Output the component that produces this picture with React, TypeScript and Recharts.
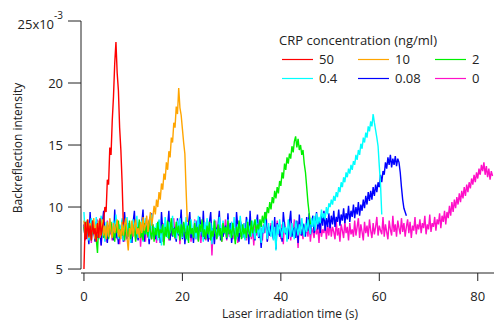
import React from "react";
import { LineChart, Line, XAxis, YAxis, ReferenceLine } from "recharts";

// Backreflection vs laser time, one trace per CRP concentration.
// values are in units of 1e-3, sampled every DT seconds from t = 0
const DT = 0.25;

const red50 = [
  5.0, 8.8, 7.4, 9.0, 7.6, 8.5, 7.3, 8.9, 7.8, 8.3, 7.2, 8.7, 7.5, 9.1, 7.7, 8.4,
  8.8, 10.0, 9.6, 12.2, 11.8, 14.8, 14.2, 17.0, 18.9, 21.6, 23.3, 20.8, 19.4, 16.4, 14.6, 12.0, 8.6,
];

const orange10 = [
  8.9, 7.6, 8.4, 9.0, 7.5, 8.7, 7.9, 8.2, 9.1, 7.4, 8.6, 7.8, 8.9, 7.5, 8.3, 9.0, 7.7, 8.5, 7.4, 8.8,
  7.6, 9.1, 8.0, 7.5, 8.7, 7.9, 8.4, 9.0, 7.6, 8.2, 7.4, 8.8, 7.7, 8.6, 9.1, 7.5, 6.5, 8.3, 7.8, 8.9,
  7.6, 8.5, 9.0, 7.8, 8.3, 7.5, 8.8, 7.9, 9.2, 8.1, 8.6, 9.3, 8.0, 8.8, 9.6, 8.5, 9.2, 10.1, 9.4, 10.6,
  10.0, 11.2, 10.6, 11.9, 11.4, 12.7, 12.2, 13.6, 13.0, 14.5, 14.0, 15.6, 15.2, 16.8, 16.4, 18.1, 17.5, 19.6, 18.0, 17.4,
  16.3, 15.2, 14.3, 11.4, 8.8,
];

const green2 = [
  8.4, 7.5, 8.8, 8.1, 7.7, 8.5, 7.3, 8.9, 7.9, 8.2, 7.4, 6.3, 8.7, 7.6, 8.3, 8.9, 7.5, 8.1, 7.8, 8.6,
  7.4, 8.3, 8.8, 7.6, 8.0, 7.2, 8.6, 7.9, 8.9, 7.5, 8.2, 7.7, 8.4, 7.3, 8.7, 8.0, 7.6, 8.9, 7.4, 8.3,
  7.8, 8.6, 7.2, 8.4, 7.9, 9.0, 7.5, 8.1, 7.3, 8.7, 7.8, 8.5, 7.6, 8.9, 8.0, 7.4, 8.6, 7.2, 8.3, 7.7,
  8.8, 7.5, 8.2, 7.9, 8.6, 6.9, 8.4, 7.6, 8.9, 7.4, 8.1, 9.1, 7.7, 8.3, 7.5, 8.8, 7.9, 8.5, 7.3, 8.6,
  7.6, 8.8, 8.0, 7.4, 8.5, 7.1, 8.9, 7.8, 8.3, 7.5, 8.7, 7.9, 8.4, 7.2, 8.6, 8.0, 9.0, 7.6, 8.2, 7.4,
  8.5, 7.8, 8.8, 7.3, 8.1, 7.6, 8.9, 8.0, 7.4, 8.6, 7.7, 8.3, 7.2, 8.7, 7.9, 8.4, 7.5, 8.9, 7.8, 8.2,
  7.5, 8.7, 7.9, 7.0, 8.4, 7.6, 8.9, 8.1, 7.4, 8.6, 7.8, 8.3, 7.5, 8.8, 8.0, 7.6, 8.9, 7.9, 8.5, 9.0,
  7.9, 8.6, 8.2, 9.0, 8.4, 9.3, 8.7, 9.6, 9.0, 10.0, 9.5, 10.4, 9.8, 10.8, 10.3, 11.3, 10.7, 11.6, 11.1, 12.1,
  11.7, 12.8, 12.3, 13.5, 13.0, 14.0, 13.5, 14.3, 13.9, 14.9, 14.4, 15.3, 15.7, 14.8, 15.5, 14.6, 15.0, 14.2, 14.6, 13.5,
  12.8, 11.6, 10.4, 9.5, 8.6,
];

const cyan04 = [
  9.6, 7.6, 8.9, 8.2, 7.3, 8.6, 9.1, 7.8, 8.4, 7.5, 9.2, 8.0, 7.4, 8.7, 9.3, 7.7, 8.3, 7.2, 8.8, 8.1,
  7.6, 9.0, 8.3, 7.5, 8.9, 7.9, 9.4, 8.2, 7.4, 8.6, 7.8, 9.1, 7.3, 8.5, 8.0, 9.2, 7.6, 8.7, 7.1, 8.4,
  9.0, 7.7, 8.3, 9.3, 7.5, 8.6, 7.9, 8.9, 7.2, 8.5, 9.1, 7.8, 8.2, 7.4, 8.8, 9.4, 7.6, 8.4, 7.9, 8.7,
  7.3, 9.0, 8.1, 6.9, 8.6, 7.7, 9.2, 8.0, 7.5, 8.8, 7.9, 8.4, 9.3, 7.6, 8.2, 7.4, 8.9, 7.8, 9.1, 8.3,
  7.5, 8.7, 8.0, 9.2, 7.3, 8.5, 7.8, 9.0, 8.2, 7.6, 8.9, 7.4, 8.4, 9.3, 7.7, 8.6, 8.0, 7.2, 8.8, 7.9,
  9.1, 8.3, 7.5, 8.7, 7.0, 8.4, 9.0, 7.8, 8.2, 7.6, 9.2, 8.5, 7.4, 8.9, 7.9, 8.3, 7.6, 9.0, 8.1, 7.5,
  8.8, 7.7, 9.2, 8.0, 7.4, 8.6, 7.9, 9.3, 8.2, 7.5, 8.7, 7.3, 8.4, 9.0, 7.8, 8.5, 7.6, 8.9, 8.1, 7.4,
  9.0, 8.2, 7.6, 8.8, 7.1, 8.5, 7.9, 9.1, 8.3, 7.4, 8.7, 8.0, 7.6, 8.9, 7.3, 8.4, 6.5, 8.6, 7.8, 9.0,
  8.1, 7.5, 8.8, 7.9, 8.4, 7.2, 9.0, 8.2, 7.6, 8.7, 8.0, 7.4, 8.9, 8.3, 7.7, 8.6, 7.8, 9.1, 8.2, 7.6,
  8.7, 8.0, 9.0, 8.3, 7.8, 9.1, 8.4, 9.3, 8.1, 9.5, 8.6, 9.2, 8.7, 9.8, 9.1, 9.5, 9.0, 10.0, 9.4, 10.3,
  10.0, 10.6, 10.2, 10.9, 10.5, 11.2, 10.8, 11.6, 11.2, 12.0, 11.6, 12.4, 12.0, 12.8, 12.4, 13.1, 12.7, 13.4, 13.0, 13.7,
  13.4, 14.2, 13.8, 14.6, 14.2, 15.1, 14.7, 15.6, 15.2, 16.0, 15.6, 16.5, 16.1, 16.9, 16.5, 17.5, 16.8, 16.2, 15.6, 14.9,
  13.3, 11.8, 9.4,
];

const blue008 = [
  8.6, 7.4, 8.2, 8.0, 7.0, 9.6, 7.7, 8.4, 8.1, 7.2, 8.8, 7.5, 8.3, 8.1, 6.9, 8.7, 9.7, 7.6, 8.3, 7.1,
  8.5, 7.8, 8.6, 8.0, 7.3, 9.8, 7.5, 8.2, 7.0, 8.4, 7.7, 8.9, 7.2, 9.6, 8.0, 7.4, 8.5, 8.2, 7.8, 7.1,
  8.8, 9.7, 7.5, 8.3, 7.3, 8.4, 7.6, 8.7, 9.8, 7.2, 8.4, 7.9, 8.3, 7.0, 8.6, 9.5, 7.7, 8.1, 7.4, 8.2,
  7.6, 8.9, 7.1, 9.6, 8.2, 7.5, 8.0, 7.8, 8.5, 9.7, 7.3, 8.8, 7.6, 8.4, 8.0, 7.2, 9.1, 7.7, 8.4, 9.8,
  7.4, 8.6, 7.0, 8.3, 7.9, 8.7, 9.6, 7.5, 8.2, 7.1, 8.5, 7.8, 8.9, 7.3, 9.2, 8.4, 7.6, 9.7, 7.4, 8.5,
  8.0, 7.2, 8.8, 9.6, 7.5, 8.3, 7.0, 8.4, 7.9, 8.6, 9.7, 7.3, 8.1, 7.6, 8.2, 8.5, 7.4, 9.5, 7.8, 8.7,
  7.1, 8.3, 8.0, 7.5, 9.6, 8.4, 7.2, 8.9, 8.5, 7.6, 8.2, 7.4, 9.2, 8.7, 7.0, 9.7, 7.8, 8.5, 8.1, 7.3,
  8.6, 9.4, 7.5, 8.1, 6.7, 8.3, 7.9, 8.8, 9.6, 7.2, 8.4, 7.7, 8.5, 8.0, 7.4, 9.2, 6.6, 8.7, 8.4, 7.6,
  8.3, 7.2, 9.6, 8.5, 7.8, 8.1, 7.4, 8.8, 9.7, 7.6, 8.2, 8.3, 7.5, 8.9, 7.1, 9.4, 8.0, 7.7, 8.6, 8.4,
  7.6, 9.2, 8.1, 9.5, 7.8, 8.7, 9.3, 7.9, 8.6, 9.6, 8.2, 9.0, 7.9, 9.4, 8.5, 9.7, 8.1, 9.1, 8.4, 9.5,
  8.3, 9.3, 8.6, 9.7, 8.4, 9.2, 8.8, 9.8, 8.5, 9.4, 8.9, 9.9, 8.7, 9.5, 9.0, 10.1, 8.8, 9.7, 9.2, 10.2,
  9.1, 10.0, 9.4, 10.4, 9.3, 10.2, 9.7, 10.6, 9.9, 10.9, 10.2, 11.2, 10.5, 11.3, 10.6, 11.6, 10.9, 11.8, 11.2, 12.0,
  11.6, 12.6, 12.0, 12.9, 12.6, 13.6, 13.1, 14.0, 13.4, 14.2, 13.2, 13.9, 13.4, 14.1, 13.3, 13.9, 13.6, 12.8, 11.6, 10.6,
  9.9, 9.6, 9.3,
];

const magenta0 = [
  8.6, 7.3, 8.1, 8.9, 7.6, 8.4, 7.1, 8.8, 7.9, 7.5, 8.2, 9.0, 7.4, 8.5, 6.9, 8.7, 7.7, 8.3, 7.2, 8.9,
  7.5, 8.6, 8.0, 7.3, 8.8, 7.7, 9.0, 7.4, 8.3, 7.0, 8.5, 7.8, 8.9, 7.2, 8.4, 7.6, 8.7, 8.1, 7.3, 8.6,
  7.8, 8.9, 7.4, 8.2, 7.6, 8.8, 6.8, 8.5, 7.9, 8.3, 7.2, 8.7, 7.5, 9.0, 8.0, 7.4, 8.6, 7.7, 8.2, 7.1,
  8.8, 7.5, 8.4, 7.9, 7.2, 8.7, 8.0, 7.6, 8.9, 7.3, 8.5, 7.7, 8.2, 9.1, 7.4, 8.6, 7.8, 8.3, 7.0, 8.7,
  7.6, 8.4, 7.3, 8.9, 8.0, 7.5, 8.6, 7.2, 8.3, 7.8, 9.0, 7.4, 8.5, 7.9, 8.7, 7.1, 8.2, 7.6, 8.8, 7.3,
  8.5, 8.0, 7.4, 8.7, 6.1, 8.3, 7.7, 8.9, 7.5, 8.2, 7.9, 8.6, 7.2, 8.4, 7.8, 9.0, 7.3, 8.5, 7.6, 8.1,
  8.8, 7.4, 8.3, 7.9, 8.6, 7.1, 8.9, 7.6, 8.2, 7.5, 8.7, 8.0, 7.3, 8.5, 7.8, 9.0, 7.4, 8.4, 6.9, 8.6,
  7.7, 8.3, 7.5, 8.8, 8.0, 7.3, 8.6, 7.9, 8.9, 7.2, 8.4, 7.7, 8.7, 8.1, 7.5, 8.5, 7.4, 8.9, 7.8, 8.2,
  7.4, 8.6, 7.0, 8.8, 7.9, 8.3, 7.6, 8.7, 7.3, 8.5, 8.0, 9.0, 7.5, 8.4, 6.7, 8.8, 7.7, 8.2, 7.4, 8.6,
  7.9, 8.5, 7.6, 8.9, 7.2, 8.3, 8.0, 7.5, 8.6, 7.8, 8.4, 7.1, 8.8, 7.6, 8.2, 7.9, 8.7, 7.4, 8.5, 7.7,
  8.8, 7.6, 8.4, 8.0, 7.4, 8.9, 7.7, 8.3, 7.2, 8.6, 8.1, 7.5, 8.8, 7.9, 8.4, 7.3, 8.7, 7.8, 8.2, 7.6,
  8.9, 7.7, 8.4, 9.1, 7.5, 8.6, 8.0, 7.3, 8.8, 7.9, 8.5, 7.6, 9.0, 8.1, 7.5, 8.7, 7.8, 8.4, 9.2, 7.7,
  8.5, 8.1, 7.8, 9.2, 7.6, 8.6, 8.0, 7.4, 8.9, 8.2, 7.7, 9.3, 8.0, 8.6, 7.6, 8.9, 8.3, 7.8, 9.1, 8.0,
  8.7, 7.6, 8.4, 9.0, 7.9, 8.8, 7.5, 8.5, 8.1, 9.2, 7.8, 8.6, 8.2, 9.0, 7.9, 8.7, 8.3, 9.3, 7.8, 8.6,
  8.2, 9.4, 8.0, 8.7, 8.4, 9.2, 8.1, 9.0, 8.6, 9.5, 8.3, 9.3, 8.8, 9.7, 8.6, 9.6, 9.1, 10.1, 9.3, 10.4,
  9.6, 10.6, 9.9, 10.8, 10.2, 11.1, 10.4, 11.3, 10.7, 11.6, 10.9, 11.8, 11.2, 12.0, 11.5, 12.3, 11.8, 12.6, 12.0, 12.8,
  12.3, 13.1, 12.6, 13.4, 12.9, 13.6, 12.6, 13.3, 12.4, 13.1, 12.2, 12.9, 12.5,
];

// legend order (rows of three)
const series = [
  { name: "50", color: "#FF0000", values: red50 },
  { name: "10", color: "#FFA500", values: orange10 },
  { name: "2", color: "#00F000", values: green2 },
  { name: "0.4", color: "#00FFFF", values: cyan04 },
  { name: "0.08", color: "#0000FF", values: blue008 },
  { name: "0", color: "#FF10C8", values: magenta0 },
];

const xTicks = [0, 20, 40, 60, 80];
const yTicks = [5, 10, 15, 20, 25];
const X_MIN = -0.6;

const font = '"Open Sans", sans-serif';
const ink = "#222";

function toPoints(values: number[]) {
  return values.map((v, i) => ({ t: i * DT, v }));
}

function YTick({ x, y, payload }: any) {
  if (payload.value === 25) {
    return (
      <text x={x} y={y} textAnchor="end" fontSize={13} fontFamily={font} fill={ink}>
        <tspan dy={7.5}>25x10</tspan>
        <tspan dy={-10} fontSize={10}>-3</tspan>
      </text>
    );
  }
  return (
    <text x={x} y={y} dy="0.35em" textAnchor="end" fontSize={13} fontFamily={font} fill={ink}>
      {payload.value}
    </text>
  );
}

export default function App() {
  const legendCols = [282, 358, 435];
  const legendRows = [59, 78];

  return (
    <div style={{ position: "absolute", left: 0, top: 0, width: 494, height: 323, background: "#fff", overflow: "hidden" }}>
      <LineChart width={494} height={323} margin={{ top: 21, right: 0, bottom: 0, left: 0 }}>
        <XAxis
          type="number"
          dataKey="t"
          domain={[X_MIN, 83.3]}
          ticks={xTicks}
          allowDataOverflow
          height={50}
          tickSize={8}
          tickMargin={11}
          stroke={ink}
          tick={{ fill: ink, fontSize: 13, fontFamily: font }}
        />
        <YAxis
          type="number"
          dataKey="v"
          domain={[4.68, 25]}
          ticks={yTicks}
          allowDataOverflow
          width={81}
          tickSize={13}
          tickMargin={5}
          axisLine={false}
          stroke={ink}
          tick={<YTick />}
        />
        <ReferenceLine segment={[{ x: X_MIN, y: 5 }, { x: X_MIN, y: 25 }]} stroke={ink} />
        {/* drawn back to front: magenta first, red on top */}
        {[...series].reverse().map((s) => (
          <Line
            key={s.name}
            data={toPoints(s.values)}
            dataKey="v"
            type="linear"
            stroke={s.color}
            strokeWidth={1.4}
            dot={false}
            isAnimationActive={false}
          />
        ))}
      </LineChart>

      {/* axis titles */}
      <div
        style={{
          position: "absolute", left: 17, top: 148, transform: "translate(-50%, -50%) rotate(-90deg)",
          whiteSpace: "nowrap", fontFamily: font, fontSize: 12, color: ink,
        }}
      >
        Backreflection intensity
      </div>
      <div
        style={{
          position: "absolute", left: 290, top: 314, transform: "translate(-50%, -50%)",
          whiteSpace: "nowrap", fontFamily: font, fontSize: 12, lineHeight: "14px", color: ink,
        }}
      >
        Laser irradiation time (s)
      </div>

      {/* legend */}
      <div style={{ position: "absolute", left: 279, top: 31, fontFamily: font, fontSize: 13, color: ink, whiteSpace: "nowrap" }}>
        CRP concentration (ng/ml)
      </div>
      <svg width={494} height={323} style={{ position: "absolute", left: 0, top: 0, pointerEvents: "none" }}>
        {series.map((s, i) => {
          const x = legendCols[i % 3];
          const y = legendRows[Math.floor(i / 3)] + 0.5;
          return (
            <g key={s.name}>
              <line x1={x} x2={x + 31} y1={y} y2={y} stroke={s.color} strokeWidth={1.2} />
              <text x={x + 37} y={y} dy="0.36em" fontFamily={font} fontSize={13} fill={ink}>
                {s.name}
              </text>
            </g>
          );
        })}
      </svg>
    </div>
  );
}
